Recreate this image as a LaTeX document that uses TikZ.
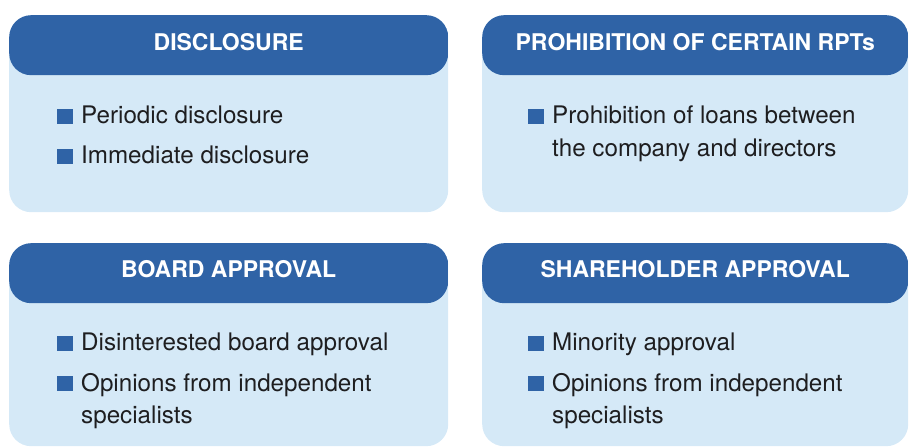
\documentclass[tikz,border=0pt]{standalone}
\usepackage{fontspec}
\setmainfont{TeX Gyre Heros}
\usetikzlibrary{positioning,calc}
\definecolor{headblue}{RGB}{47,99,166}
\definecolor{bodyblue}{RGB}{213,233,247}
\definecolor{inkgray}{RGB}{30,30,32}
\newcommand{\sqmark}{\textcolor{headblue}{\rule{16pt}{15pt}}\hspace{8pt}}
\tikzset{
    card/.style={rectangle, rounded corners=22pt, fill=bodyblue, inner sep=0pt,
        anchor=north west, minimum height=197pt,
        path picture={\fill[headblue] ([yshift=2pt]path picture bounding box.north west)
            rectangle ([yshift=-60pt]path picture bounding box.north east);}},
    cardhead/.style={text=white, anchor=base, inner sep=0pt,
        font=\bfseries\fontsize{23}{23}\selectfont},
    entry/.style={text=inkgray, anchor=base west, inner sep=0pt,
        font=\fontsize{24.2}{24}\selectfont},
}

\begin{document}
\begin{tikzpicture}[x=1pt, y=1pt]
            \useasboundingbox (0,0) rectangle (909,447);

            % cards
            \node[card, minimum width=439pt] (disc) at (9,432) {};
            \node[card, minimum width=426pt] (proh) at (482,432) {};
            \node[card, minimum width=439pt, minimum height=203pt] (board) at (9,204) {};
            \node[card, minimum width=426pt, minimum height=203pt] (share) at (482,204) {};

            % headings
            \node[cardhead] (disc-h) at ([yshift=-36pt]disc.north) {DISCLOSURE};
            \node[cardhead] (proh-h) at ([yshift=-36pt]proh.north) {PROHIBITION OF CERTAIN RPTs};
            \node[cardhead] (board-h) at ([yshift=-35pt]board.north) {BOARD APPROVAL};
            \node[cardhead] (share-h) at ([yshift=-35pt]share.north) {SHAREHOLDER APPROVAL};

            % entries
            \node[entry] (disc-1) at ([xshift=48pt,yshift=-109pt]disc.north west) {\sqmark Periodic disclosure};
            \node[entry] (disc-2) at ([yshift=-40pt]disc-1.base west) {\sqmark Immediate disclosure};

            \node[entry] (proh-1) at ([xshift=46pt,yshift=-109pt]proh.north west) {\sqmark Prohibition of loans between};
            \node[entry] (proh-1b) at ([xshift=24pt,yshift=-33pt]proh-1.base west) {the company and directors};

            \node[entry] (board-1) at ([xshift=48pt,yshift=-108pt]board.north west) {\sqmark Disinterested board approval};
            \node[entry] (board-2) at ([yshift=-40pt]board-1.base west) {\sqmark Opinions from independent};
            \node[entry] (board-2b) at ([xshift=24pt,yshift=-32pt]board-2.base west) {specialists};

            \node[entry] (share-1) at ([xshift=46pt,yshift=-108pt]share.north west) {\sqmark Minority approval};
            \node[entry] (share-2) at ([yshift=-40pt]share-1.base west) {\sqmark Opinions from independent};
            \node[entry] (share-2b) at ([xshift=24pt,yshift=-32pt]share-2.base west) {specialists};
        \end{tikzpicture}
\end{document}
